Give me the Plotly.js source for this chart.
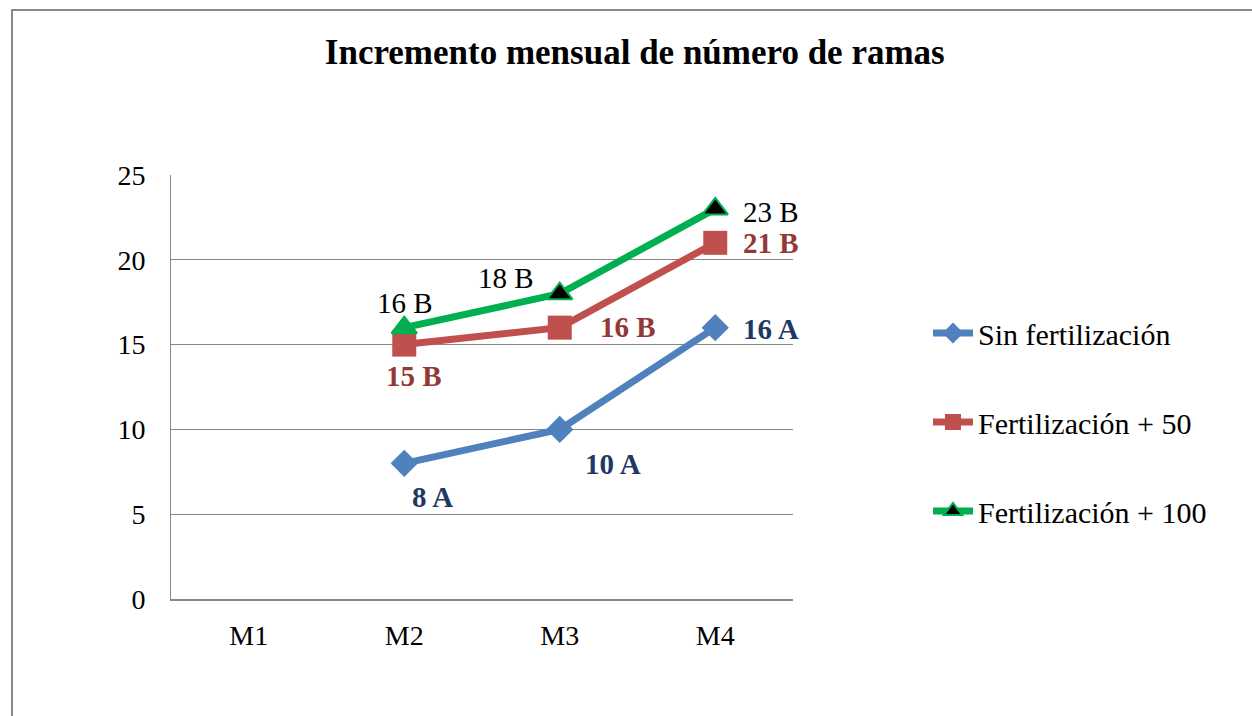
<!DOCTYPE html>
<html>
<head>
<meta charset="utf-8">
<script src="https://cdn.plot.ly/plotly-3.0.1.min.js"></script>
<style>html,body{margin:0;padding:0;background:#fff;}#chart{width:1252px;height:716px;}</style>
</head>
<body>
<div id="chart"></div>
<script>
// ---- data ----
const months = ["M1", "M2", "M3", "M4"];
const sinFert = [null, 8, 10, 16];
const fert50 = [null, 15, 16, 21];
const fert100 = [null, 16, 18, 23];
const labelsSin = ["", "8 A", "10 A", "16 A"];
const labels50 = ["", "15 B", "16 B", "21 B"];
const labels100 = ["", "16 B", "18 B", "23 B"];
const seriesNames = ["Sin fertilización", "Fertilización + 50", "Fertilización + 100"];
const yTicks = [0, 5, 10, 15, 20, 25];

// ---- styling ----
const FONT = "'Liberation Serif', 'Times New Roman', serif";
const blue = "#4F81BD", red = "#C0504D", green = "#00B050";

const traces = [
  {x: months, y: sinFert, name: seriesNames[0], mode: "lines+markers", legend: "legend",
   line: {color: blue, width: 7}, marker: {symbol: "diamond", size: 21, color: blue}},
  {x: months, y: fert50, name: seriesNames[1], mode: "lines+markers", legend: "legend2",
   line: {color: red, width: 7}, marker: {symbol: "square", size: 24, color: red}},
  {x: months, y: fert100, name: seriesNames[2], mode: "lines+markers", legend: "legend3",
   line: {color: green, width: 7},
   marker: {symbol: "triangle-up", size: 22, color: ["black", green, "black", "black"], line: {color: green, width: 2}}}
];

// label offsets in pixels (dx right, dy down) per series/point
const offs = [
  [[0,0],[28,34],[53,35],[56,1]],
  [[0,0],[10,31],[68,-1],[56,0]],
  [[0,0],[1,-25],[-54,-16],[56,3]]
];
const labelSets = [labelsSin, labels50, labels100];
const valueSets = [sinFert, fert50, fert100];
const labelStyles = [
  {color: "#1F3864", weight: "bold"},
  {color: "#953735", weight: "bold"},
  {color: "#000000", weight: "normal"}
];
const annotations = [];
valueSets.forEach((vals, i) => {
  vals.forEach((v, j) => {
    if (v === null) return;
    annotations.push({
      x: months[j], y: v, xref: "x", yref: "y", text: labelSets[i][j], showarrow: false,
      xshift: offs[i][j][0], yshift: -offs[i][j][1],
      font: {family: FONT, size: 29, color: labelStyles[i].color, weight: labelStyles[i].weight}
    });
  });
});

const pl = 171, pr = 793, pt = 175, pb = 599;
const pw = pr - pl, ph = pb - pt;
const px = v => (v - pl) / pw;
const py = v => (pb - v) / ph;

const legendBase = {xanchor: "left", yanchor: "middle", bgcolor: "rgba(0,0,0,0)",
  font: {family: FONT, size: 30, color: "#000"}, itemwidth: 40};

const layout = {
  width: 1252, height: 716,
  margin: {l: pl, r: 1252 - pr, t: pt, b: 716 - pb},
  paper_bgcolor: "#fff", plot_bgcolor: "#fff",
  font: {family: FONT, color: "#000"},
  title: {text: "Incremento mensual de número de ramas", x: 0.507, xref: "container",
    y: 1 - 52 / 716, yref: "container", yanchor: "middle", xanchor: "center",
    font: {family: FONT, size: 35, weight: "bold", color: "#000"}},
  xaxis: {type: "category", categoryarray: months, range: [-0.5, 3.5], showgrid: false,
    showline: true, linecolor: "#888", linewidth: 2, ticks: "", zeroline: false,
    tickfont: {family: FONT, size: 28, color: "#000"}, ticklabelstandoff: 10, fixedrange: true},
  yaxis: {range: [0, 25], tickvals: yTicks, showgrid: true, gridcolor: "#888", gridwidth: 1,
    showline: true, linecolor: "#888", linewidth: 1, ticks: "", zeroline: false,
    tickfont: {family: FONT, size: 28, color: "#000"}, ticklabelstandoff: 19, fixedrange: true},
  showlegend: true,
  legend: Object.assign({}, legendBase, {x: px(928), y: py(333)}),
  legend2: Object.assign({}, legendBase, {x: px(928), y: py(422)}),
  legend3: Object.assign({}, legendBase, {x: px(928), y: py(511)}),
  annotations: annotations,
  shapes: [{type: "rect", xref: "paper", yref: "paper", x0: px(12), x1: px(1400), y0: py(900), y1: py(10),
    line: {color: "#888", width: 2}, fillcolor: "rgba(0,0,0,0)", layer: "below"}]
};

Plotly.newPlot("chart", traces, layout, {displayModeBar: false, staticPlot: true});
</script>
</body>
</html>
